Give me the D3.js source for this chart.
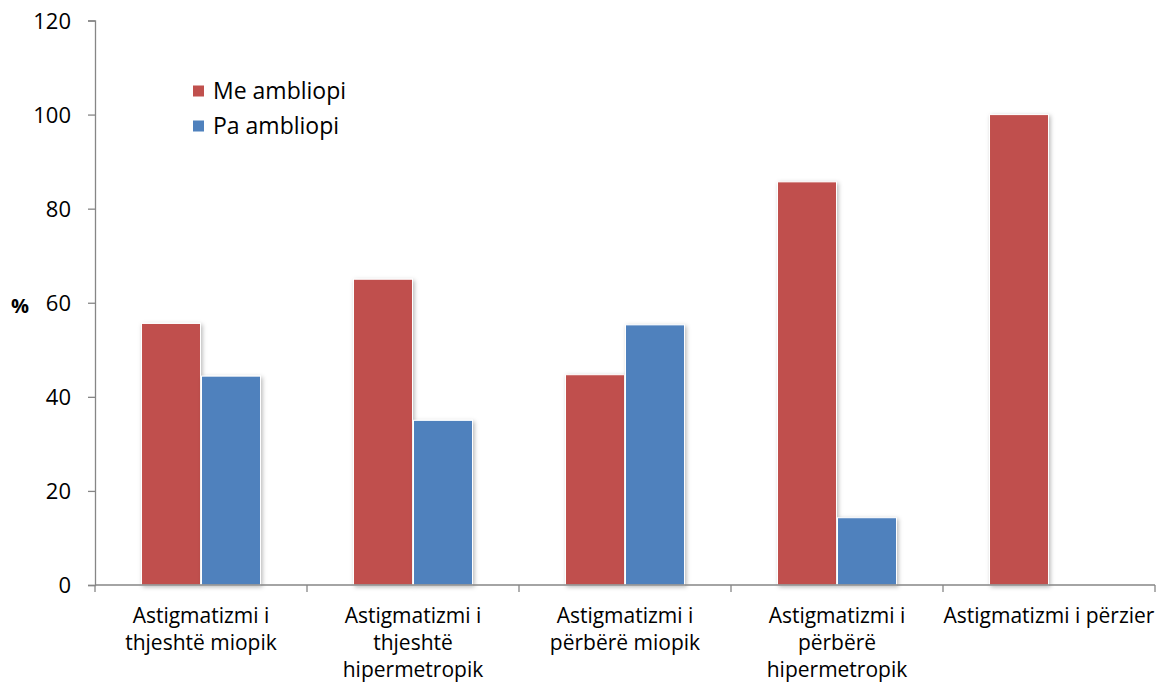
<!DOCTYPE html>
<html>
<head>
<meta charset="utf-8">
<script src="https://cdn.jsdelivr.net/npm/d3@7/dist/d3.min.js"></script>
<style>
  html, body { margin: 0; padding: 0; background: #fff; }
  svg { display: block; font-family: "Open Sans", sans-serif; }
</style>
</head>
<body>
<svg id="chart" width="1165" height="691"></svg>
<script>
// Categories (each label split into display lines)
const categories = [
  ["Astigmatizmi i", "thjeshtë miopik"],
  ["Astigmatizmi i", "thjeshtë", "hipermetropik"],
  ["Astigmatizmi i", "përbërë miopik"],
  ["Astigmatizmi i", "përbërë", "hipermetropik"],
  ["Astigmatizmi i përzier"]
];
const seriesNames = ["Me ambliopi", "Pa ambliopi"];
const meAmbliopi = [55.6, 65.0, 44.7, 85.7, 100.0];
const paAmbliopi = [44.4, 35.0, 55.3, 14.3, 0];
const yTicks = [0, 20, 40, 60, 80, 100, 120];
const colors = ["#C0504D", "#4F81BD"];

const FONT = "'Open Sans', sans-serif";
const svg = d3.select("#chart");
const x0 = 95, x1 = 1155, y0 = 585, y1 = 20.5;

// Drop shadow for bars
const defs = svg.append("defs");
const f = defs.append("filter").attr("id", "shadow")
  .attr("x", "-20%").attr("y", "-20%").attr("width", "140%").attr("height", "140%");
f.append("feDropShadow").attr("dx", 1.5).attr("dy", 1.5)
  .attr("stdDeviation", 2).attr("flood-color", "#000").attr("flood-opacity", 0.28);

const keys = categories.map((c, i) => i);
const x = d3.scaleBand().domain(keys).range([x0, x1]).paddingInner(0).paddingOuter(0);
const xs = d3.scaleBand().domain([0, 1]).range([0, x.bandwidth()]).paddingInner(0).paddingOuter(0.767);
const y = d3.scaleLinear().domain([0, 120]).range([y0, y1]);

// Bars
const series = [meAmbliopi, paAmbliopi];
const g = svg.append("g");
keys.forEach(i => {
  series.forEach((vals, s) => {
    if (vals[i] <= 0) return;
    g.append("rect")
      .attr("x", x(i) + xs(s) + 0.5)
      .attr("width", xs.bandwidth() - 1)
      .attr("y", y(vals[i]))
      .attr("height", y(0) - y(vals[i]))
      .attr("fill", colors[s])
      .attr("stroke", "#fff")
      .attr("stroke-width", 1)
      .attr("filter", "url(#shadow)");
  });
});

// Y axis
const yAxis = d3.axisLeft(y).tickValues(yTicks).tickSize(7).tickPadding(17);
const ya = svg.append("g").attr("transform", `translate(${x0},0)`).call(yAxis);
ya.attr("font-family", FONT).attr("font-size", 22);
ya.select(".domain").attr("stroke", "#868686").attr("stroke-width", 1.3);
ya.selectAll(".tick line").attr("stroke", "#868686").attr("stroke-width", 1.3);
ya.selectAll(".tick text").attr("fill", "#000").attr("dy", "0.36em");

// X axis: ticks at category boundaries
const xa = svg.append("g").attr("transform", `translate(0,${y0})`);
xa.append("line").attr("x1", x0).attr("x2", x1).attr("y1", 0).attr("y2", 0)
  .attr("stroke", "#868686").attr("stroke-width", 1.3);
const bounds = keys.map(i => x(i)).concat([x1]);
xa.selectAll("line.tk").data(bounds).enter().append("line")
  .attr("class", "tk")
  .attr("x1", d => d).attr("x2", d => d).attr("y1", 0).attr("y2", 7)
  .attr("stroke", "#868686").attr("stroke-width", 1.3);

// Category labels
keys.forEach(i => {
  const cx = x(i) + x.bandwidth() / 2;
  const t = svg.append("text").attr("x", cx).attr("y", 623)
    .attr("text-anchor", "middle").attr("font-size", 21).attr("fill", "#000");
  categories[i].forEach((line, k) => {
    t.append("tspan").attr("x", cx).attr("dy", k === 0 ? 0 : 27).text(line);
  });
});

// Y axis title
svg.append("text").attr("x", 20).attr("y", 313).attr("text-anchor", "middle")
  .attr("font-size", 20).attr("font-weight", "bold").attr("fill", "#000").text("%");

// Legend
const lg = svg.append("g");
seriesNames.forEach((name, s) => {
  const cy = 91 + s * 35;
  lg.append("rect").attr("x", 193).attr("y", cy - 5.5).attr("width", 11).attr("height", 11)
    .attr("fill", colors[s]);
  lg.append("text").attr("x", 213).attr("y", cy + 8).attr("font-size", 23)
    .attr("fill", "#000").text(name);
});
</script>
</body>
</html>
